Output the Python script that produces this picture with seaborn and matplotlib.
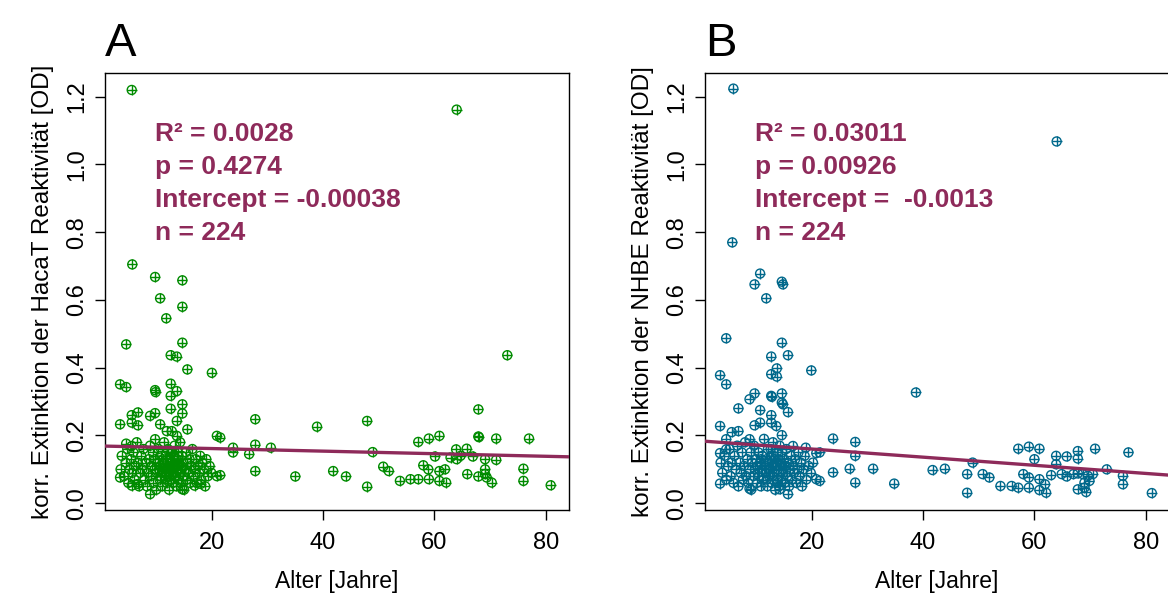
import numpy as np
import pandas as pd
import matplotlib
matplotlib.use('Agg')
import matplotlib.pyplot as plt
import seaborn as sns

# Werte (Alter [Jahre], korr. Extinktion [OD])
# Panel A: HacaT, verstreute Punkte links (Alter < 22)
a_links = [(5.6, 1.22), (5.7, 0.705), (9.8, 0.668), (14.7, 0.658), (10.7, 0.605),
           (14.7, 0.580), (11.8, 0.546), (4.6, 0.469), (14.7, 0.474), (12.6, 0.437),
           (13.7, 0.433), (15.6, 0.395), (20.0, 0.385), (3.5, 0.351), (4.6, 0.343),
           (9.8, 0.334), (9.9, 0.328), (12.6, 0.353), (13.7, 0.331), (12.6, 0.317),
           (14.7, 0.292), (12.6, 0.279), (14.7, 0.265), (13.7, 0.243), (15.6, 0.218),
           (20.9, 0.199), (3.5, 0.233), (5.6, 0.260), (6.7, 0.268), (5.6, 0.238),
           (6.7, 0.230), (8.9, 0.258), (9.8, 0.266), (10.7, 0.233), (11.9, 0.213),
           (12.8, 0.213), (13.7, 0.199), (9.8, 0.189), (4.6, 0.176), (5.6, 0.169),
           (3.5, 0.076), (5.6, 0.052), (6.7, 0.057), (8.9, 0.027), (14.7, 0.041),
           (16.9, 0.052), (18.0, 0.057), (20.9, 0.080)]
# Panel A: dichte Wolke bei Kindern und Jugendlichen
a_wolke = [(3.6, 0.10), (3.8, 0.14), (4.2, 0.08), (4.5, 0.12), (4.8, 0.16), (5.0, 0.06),
           (5.2, 0.10), (5.5, 0.13), (5.7, 0.09), (5.9, 0.15), (6.1, 0.07), (6.3, 0.11),
           (6.5, 0.18), (6.7, 0.12), (6.9, 0.05), (7.1, 0.09), (7.3, 0.14), (7.5, 0.10),
           (7.7, 0.16), (7.9, 0.07), (8.1, 0.12), (8.3, 0.05), (8.5, 0.09), (8.7, 0.13),
           (8.9, 0.17), (9.0, 0.08), (9.2, 0.11), (9.4, 0.15), (9.5, 0.06), (9.7, 0.10),
           (9.8, 0.13), (10.0, 0.04), (10.1, 0.09), (10.3, 0.12), (10.4, 0.16), (10.6, 0.07),
           (10.7, 0.11), (10.9, 0.14), (11.0, 0.05), (11.1, 0.09), (11.3, 0.12), (11.4, 0.18),
           (11.5, 0.08), (11.7, 0.10), (11.8, 0.14), (11.9, 0.06), (12.0, 0.12), (12.1, 0.16),
           (12.2, 0.09), (12.3, 0.04), (12.4, 0.11), (12.5, 0.13), (12.6, 0.07), (12.7, 0.15),
           (12.8, 0.10), (12.9, 0.12), (13.0, 0.06), (13.1, 0.09), (13.2, 0.14), (13.3, 0.17),
           (13.4, 0.08), (13.5, 0.11), (13.6, 0.05), (13.7, 0.13), (13.8, 0.10), (13.9, 0.15),
           (14.0, 0.07), (14.1, 0.12), (14.2, 0.09), (14.3, 0.18), (14.4, 0.06), (14.5, 0.11),
           (14.6, 0.14), (14.8, 0.08), (14.9, 0.12), (15.0, 0.04), (15.2, 0.10), (15.3, 0.15),
           (15.5, 0.07), (15.6, 0.12), (15.8, 0.09), (16.0, 0.13), (16.1, 0.06), (16.3, 0.11),
           (16.5, 0.16), (16.7, 0.08), (16.9, 0.10), (17.1, 0.13), (17.3, 0.06), (17.5, 0.11),
           (17.7, 0.09), (17.9, 0.14), (18.1, 0.07), (18.3, 0.12), (18.6, 0.10), (18.8, 0.05),
           (19.0, 0.13), (19.3, 0.08), (19.6, 0.11), (19.9, 0.09), (10.5, 0.10), (11.2, 0.13),
           (11.6, 0.07), (12.1, 0.10), (12.6, 0.12), (13.2, 0.11), (13.6, 0.09), (14.0, 0.14),
           (12.4, 0.08), (11.8, 0.11), (13.9, 0.11), (12.9, 0.15), (10.8, 0.08), (14.6, 0.10)]
# Panel A: Erwachsene
a_rechts = [(21.5, 0.194), (21.5, 0.083), (23.8, 0.164), (23.8, 0.150), (26.7, 0.145),
            (27.8, 0.248), (27.8, 0.173), (27.8, 0.095), (30.6, 0.164), (35.0, 0.079),
            (38.9, 0.226), (41.8, 0.095), (44.1, 0.079), (47.9, 0.243), (47.9, 0.049),
            (48.9, 0.151), (50.8, 0.108), (51.8, 0.095), (53.8, 0.066), (55.7, 0.071),
            (57.1, 0.071), (57.1, 0.181), (58.0, 0.112), (58.9, 0.100), (59.0, 0.191),
            (59.0, 0.071), (60.1, 0.138), (60.9, 0.199), (60.9, 0.095), (60.9, 0.066),
            (61.9, 0.100), (62.1, 0.061), (62.9, 0.135), (63.9, 0.159), (64.0, 0.130),
            (64.7, 0.140), (65.8, 0.161), (66.9, 0.138), (65.9, 0.086), (67.9, 0.277),
            (67.9, 0.197), (68.0, 0.195), (67.9, 0.079), (69.1, 0.130), (69.1, 0.100),
            (69.1, 0.086), (69.4, 0.076), (70.3, 0.061), (71.1, 0.191), (71.1, 0.128),
            (73.1, 0.437), (76.0, 0.102), (76.0, 0.066), (77.0, 0.191), (80.9, 0.053),
            (64.0, 1.162)]

# Panel B: NHBE
b_links = [(5.9, 1.224), (5.7, 0.770), (10.7, 0.678), (9.7, 0.646), (14.6, 0.654),
           (14.8, 0.646), (11.8, 0.605), (4.6, 0.487), (14.6, 0.474), (12.7, 0.433),
           (15.7, 0.437), (13.7, 0.398), (12.7, 0.381), (13.7, 0.374), (19.9, 0.392),
           (3.5, 0.378), (4.6, 0.351), (9.7, 0.324), (8.8, 0.307), (12.7, 0.317),
           (12.8, 0.314), (14.6, 0.324), (14.6, 0.297), (14.8, 0.292), (6.8, 0.280),
           (10.7, 0.275), (15.7, 0.269), (12.7, 0.260), (3.5, 0.228), (9.7, 0.230),
           (10.7, 0.238), (12.7, 0.238), (13.6, 0.228), (14.6, 0.201), (5.6, 0.210),
           (6.8, 0.213), (4.6, 0.189), (8.8, 0.189), (3.5, 0.148), (4.6, 0.159),
           (3.5, 0.058), (20.8, 0.148), (18.9, 0.164), (16.6, 0.169), (20.8, 0.071),
           (8.8, 0.043), (15.7, 0.027), (14.2, 0.041)]
b_wolke = [(3.6, 0.12), (3.9, 0.09), (4.3, 0.14), (4.6, 0.07), (4.9, 0.11), (5.2, 0.16),
           (5.4, 0.08), (5.6, 0.12), (5.9, 0.06), (6.1, 0.14), (6.3, 0.10), (6.6, 0.17),
           (6.8, 0.05), (7.0, 0.12), (7.2, 0.09), (7.4, 0.15), (7.6, 0.07), (7.8, 0.11),
           (8.0, 0.18), (8.2, 0.08), (8.4, 0.13), (8.6, 0.06), (8.8, 0.10), (9.0, 0.15),
           (9.1, 0.04), (9.3, 0.12), (9.5, 0.08), (9.6, 0.17), (9.8, 0.10), (9.9, 0.13),
           (10.1, 0.06), (10.2, 0.11), (10.4, 0.15), (10.5, 0.08), (10.7, 0.12), (10.8, 0.05),
           (11.0, 0.10), (11.1, 0.14), (11.3, 0.07), (11.4, 0.19), (11.6, 0.11), (11.7, 0.09),
           (11.9, 0.13), (12.0, 0.05), (12.1, 0.16), (12.3, 0.08), (12.4, 0.12), (12.5, 0.10),
           (12.7, 0.14), (12.8, 0.06), (12.9, 0.11), (13.0, 0.18), (13.2, 0.09), (13.3, 0.13),
           (13.4, 0.04), (13.5, 0.11), (13.7, 0.15), (13.8, 0.07), (13.9, 0.10), (14.0, 0.13),
           (14.1, 0.05), (14.2, 0.17), (14.4, 0.09), (14.5, 0.12), (14.6, 0.07), (14.7, 0.15),
           (14.9, 0.10), (15.0, 0.13), (15.1, 0.06), (15.3, 0.11), (15.4, 0.16), (15.6, 0.08),
           (15.7, 0.12), (15.9, 0.05), (16.0, 0.10), (16.2, 0.14), (16.4, 0.07), (16.6, 0.11),
           (16.8, 0.09), (17.0, 0.13), (17.2, 0.06), (17.4, 0.10), (17.6, 0.15), (17.8, 0.08),
           (18.0, 0.12), (18.2, 0.05), (18.5, 0.10), (18.7, 0.14), (19.0, 0.07), (19.4, 0.11),
           (19.8, 0.09), (20.2, 0.12), (11.5, 0.12), (12.2, 0.10), (12.9, 0.08), (13.6, 0.12),
           (14.3, 0.11), (10.9, 0.13), (13.1, 0.14), (14.8, 0.09), (11.9, 0.07), (12.6, 0.16),
           (13.9, 0.06), (10.3, 0.09)]
b_rechts = [(21.4, 0.150), (21.4, 0.066), (23.8, 0.191), (23.8, 0.091), (26.8, 0.102),
            (27.8, 0.181), (27.8, 0.140), (27.8, 0.061), (31.0, 0.102), (34.8, 0.058),
            (38.7, 0.327), (41.7, 0.098), (43.9, 0.102), (47.9, 0.086), (47.9, 0.031),
            (48.9, 0.120), (50.7, 0.086), (51.9, 0.076), (53.9, 0.051), (55.9, 0.051),
            (57.1, 0.046), (57.1, 0.161), (59.0, 0.167), (60.9, 0.161), (60.0, 0.130),
            (58.0, 0.086), (59.0, 0.076), (59.0, 0.046), (60.9, 0.071), (60.9, 0.039),
            (61.9, 0.056), (62.1, 0.031), (63.0, 0.083), (63.9, 0.140), (63.9, 0.115),
            (65.8, 0.138), (64.9, 0.086), (65.8, 0.079), (67.0, 0.086), (67.8, 0.154),
            (67.8, 0.132), (67.8, 0.088), (68.7, 0.086), (69.6, 0.081), (70.5, 0.086),
            (67.8, 0.041), (69.0, 0.046), (69.3, 0.033), (69.9, 0.066), (69.0, 0.061),
            (70.9, 0.161), (73.0, 0.100), (75.9, 0.081), (75.9, 0.056), (76.9, 0.150),
            (81.1, 0.030), (64.0, 1.068)]

# Regressionsgeraden (Achsenabschnitt, Steigung) aus dem Bild
fit_a = (0.169, -0.00038)
fit_b = (0.184, -0.0012)
stat_a = ['R² = 0.0028', 'p = 0.4274', 'Intercept = -0.00038', 'n = 224']
stat_b = ['R² = 0.03011', 'p = 0.00926', 'Intercept =  -0.0013', 'n = 224']

sns.set_style('white')
plt.rcParams['font.family'] = ['Liberation Sans', 'DejaVu Sans']
plt.rcParams['text.color'] = 'black'
plt.rcParams['axes.labelcolor'] = 'black'

fig = plt.figure(figsize=(11.68, 6.01), dpi=100)
ax_a = fig.add_axes([0.0899, 0.1514, 0.3973, 0.7271])
ax_b = fig.add_axes([0.6036, 0.1514, 0.3973, 0.7271])

weinrot = '#8E2A5A'
panels = [
    (ax_a, a_links + a_wolke + a_rechts, '#008B00', fit_a, stat_a, 'A',
     'korr. Extinktion der HacaT Reaktivität [OD]'),
    (ax_b, b_links + b_wolke + b_rechts, '#00688B', fit_b, stat_b, 'B',
     'korr. Extinktion der NHBE Reaktivität [OD]'),
]

for ax, punkte, farbe, fit, stat, buchstabe, ylab in panels:
    df = pd.DataFrame(punkte, columns=['alter', 'od'])
    sns.scatterplot(data=df, x='alter', y='od', ax=ax, marker='o', s=42,
                    facecolor='none', edgecolor=farbe, linewidth=1.0, zorder=3)
    sns.scatterplot(data=df, x='alter', y='od', ax=ax, marker='+', s=48,
                    color=farbe, linewidth=1.0, zorder=3)

    xl = np.array([0.8, 84.2])
    sns.lineplot(x=xl, y=fit[0] + fit[1] * xl, ax=ax, color=weinrot,
                 linewidth=2.4, zorder=4)

    ax.set_xlim(0.8, 84.2)
    ax.set_ylim(-0.02, 1.27)
    ax.set_xticks([20, 40, 60, 80])
    ax.set_yticks(np.arange(0, 1.21, 0.2))
    ax.set_yticklabels([f'{v:.1f}' for v in np.arange(0, 1.21, 0.2)],
                       rotation=90, va='center')
    ax.tick_params(axis='both', direction='out', length=7, width=1,
                   labelsize=17, colors='black', bottom=True, left=True)
    ax.tick_params(axis='x', pad=9)
    ax.tick_params(axis='y', pad=5)
    for sp in ax.spines.values():
        sp.set_color('black')
        sp.set_linewidth(1.0)

    ax.set_xlabel('Alter [Jahre]', fontsize=16.5, labelpad=11)
    ax.set_ylabel(ylab, fontsize=17.5, labelpad=9)
    ax.set_title(buchstabe, loc='left', fontsize=34, pad=12, x=0.0, color='black')

    for i, zeile in enumerate(stat):
        ax.text(9.8, 1.09 - i * 0.097, zeile, color=weinrot, fontsize=19,
                fontweight='bold', va='center', ha='left')

fig.savefig('out.png', dpi=100)
